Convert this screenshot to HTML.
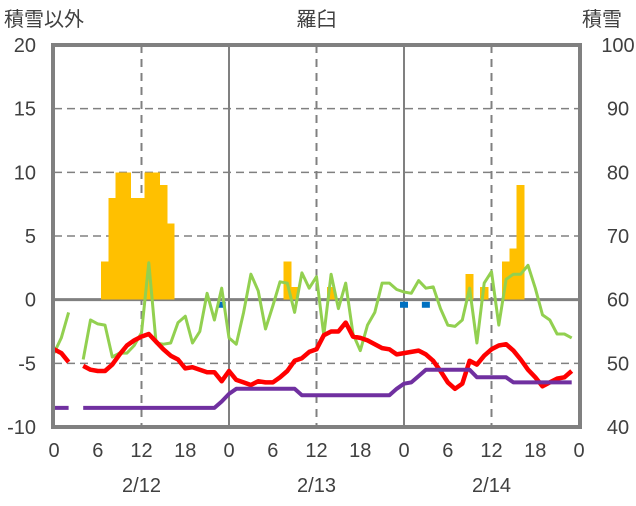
<!DOCTYPE html>
<html><head><meta charset="utf-8"><style>
html,body{margin:0;padding:0;background:#fff;}
svg text{font-family:"Liberation Sans","Noto Sans CJK JP",sans-serif;fill:#404040;font-size:20px;}
</style></head><body>
<svg id="chart" width="636" height="501" viewBox="0 0 636 501">
<g id="grid"></g><g id="bars"></g><g id="lines"></g><g id="frame"></g><g id="labels"></g>
</svg>
<script>
const leftTicks=[20,15,10,5,0,-5,-10];
const rightTicks=[100,90,80,70,60,50,40];
const hourTicks=[0,6,12,18,0,6,12,18,0,6,12,18,0];
const dates=["2/12","2/13","2/14"];
const snowHours=[7,8,9,10,11,12,13,14,15,16,32,33,38,57,59,62,63,64];
const snowVals=[3,8,10,10,8,8,10,10,9,6,3,1,1,2,1,3,4,9];
const tempVals=[-3.9,-4.2,-4.9,null,-5.2,-5.5,-5.6,-5.6,-5.1,-4.3,-3.6,-3.2,-2.9,-2.7,-3.3,-3.9,-4.4,-4.7,-5.4,-5.3,-5.5,-5.7,-5.7,-6.4,
-5.6,-6.3,-6.5,-6.7,-6.4,-6.5,-6.5,-6.1,-5.6,-4.8,-4.6,-4.1,-3.9,-2.8,-2.5,-2.5,-1.8,-2.9,-3.0,-3.2,-3.5,-3.8,-3.9,-4.3,
-4.2,-4.1,-4.0,-4.3,-4.8,-5.6,-6.5,-7.0,-6.6,-4.8,-5.1,-4.4,-3.9,-3.6,-3.5,-4.0,-4.7,-5.5,-6.1,-6.8,-6.5,-6.2,-6.1,-5.6];
const windVals=[-4.2,-3.0,-1.0,null,-4.7,-1.6,-1.9,-2.0,-4.5,-4.2,-4.2,-3.6,-2.6,2.9,-3.4,-3.5,-3.4,-1.8,-1.3,-3.4,-2.5,0.5,-1.6,0.9,
-3.0,-3.5,-1.0,2.0,0.7,-2.3,-0.5,1.4,1.3,-1.0,2.1,0.9,1.8,-2.8,2.0,-0.7,1.3,-2.7,-4.0,-2.0,-1.0,1.3,1.3,0.8,
0.6,0.5,1.5,0.9,1.0,-0.7,-2.0,-2.1,-1.6,0.9,-3.4,1.3,2.2,-2.0,1.6,2.0,2.0,2.7,0.9,-1.2,-1.6,-2.7,-2.7,-3.0];
const depthVals=[-8.5,-8.5,-8.5,null,-8.5,-8.5,-8.5,-8.5,-8.5,-8.5,-8.5,-8.5,-8.5,-8.5,-8.5,-8.5,-8.5,-8.5,-8.5,-8.5,-8.5,-8.5,-8.5,-8.0,
-7.4,-7.0,-7.0,-7.0,-7.0,-7.0,-7.0,-7.0,-7.0,-7.0,-7.5,-7.5,-7.5,-7.5,-7.5,-7.5,-7.5,-7.5,-7.5,-7.5,-7.5,-7.5,-7.5,-7.0,
-6.6,-6.5,-6.0,-5.5,-5.5,-5.5,-5.5,-5.5,-5.5,-5.5,-6.1,-6.1,-6.1,-6.1,-6.1,-6.5,-6.5,-6.5,-6.5,-6.5,-6.5,-6.5,-6.5,-6.5];
const markHours=[23,48,51];
const markVals=[-0.4,-0.4,-0.4];

const X0=54,X1=579,Y0=45,Y1=427;
const xs=h=>X0+h*(X1-X0)/72;
const ys=v=>Y1-(v+10)*(Y1-Y0)/30;
const NS="http://www.w3.org/2000/svg";
function mk(tag,attrs,parent){const e=document.createElementNS(NS,tag);for(const k in attrs)e.setAttribute(k,attrs[k]);document.getElementById(parent).appendChild(e);return e;}

leftTicks.forEach(v=>{
  if(v===20||v===-10)return;
  const l=mk('line',{x1:X0,x2:X1,y1:ys(v),y2:ys(v),stroke:'#808080','stroke-width':v===0?3:1.5,'stroke-dasharray':v===0?'none':'8,5'},'grid');
  
  
});
[12,24,36,48,60].forEach(h=>{
  const solid=(h%24===0);
  const l=mk('line',{x1:xs(h),x2:xs(h),y1:Y0,y2:Y1,stroke:'#808080','stroke-width':2,'stroke-dasharray':solid?'none':'8,6'},'grid');
  
  
});
const bw=(X1-X0)/72;
snowHours.forEach((h,i)=>{
  const b=mk('rect',{x:xs(h)-bw/2-0.4,y:ys(snowVals[i]),width:bw+0.8,height:ys(0)-ys(snowVals[i]),fill:'#FFC000','shape-rendering':'crispEdges'},'bars');
  
  
});
function series(vals,color,w,name){
  let d='',pen=false;
  vals.forEach((v,h)=>{if(v===null){pen=false;return;}d+=(pen?'L':'M')+xs(h).toFixed(1)+','+ys(v).toFixed(1)+' ';pen=true;});
  const p=mk('path',{d:d,fill:'none',stroke:color,'stroke-width':w,'stroke-linejoin':'round'},'lines');
  
  
}
markHours.forEach((h,i)=>{
  const r=mk('rect',{x:xs(h)-4,y:ys(markVals[i])-3,width:8,height:6,fill:'#0070C0'},'lines');
  
  
});
series(windVals,'#92D050',3,'green-series-line');
series(tempVals,'#FF0000',4.5,'temperature-line');
series(depthVals,'#7030A0',4,'purple-series-line');
const f=mk('rect',{x:X0-1,y:Y0,width:X1-X0+2,height:Y1-Y0,fill:'none',stroke:'#808080','stroke-width':4},'frame');


function txt(s,x,y,anchor,name){const t=mk('text',{x:x,y:y,'text-anchor':anchor},'labels');t.textContent=s;return t;}
leftTicks.forEach(v=>txt(String(v),36,ys(v)+7,'end','left-tick-label'));
rightTicks.forEach((v,i)=>txt(String(v),618,ys(leftTicks[i])+7,'middle','right-tick-label'));
hourTicks.forEach((v,i)=>txt(String(v),xs(i*6),457,'middle','x-tick-label'));
dates.forEach((d,i)=>txt(d,xs(12+i*24),492,'middle','date-label'));
txt('積雪以外',4,26,'start','left-axis-title');
txt('積雪',582,26,'start','right-axis-title');
txt('羅臼',xs(36),26,'middle','chart-title');
</script>
</body></html>
